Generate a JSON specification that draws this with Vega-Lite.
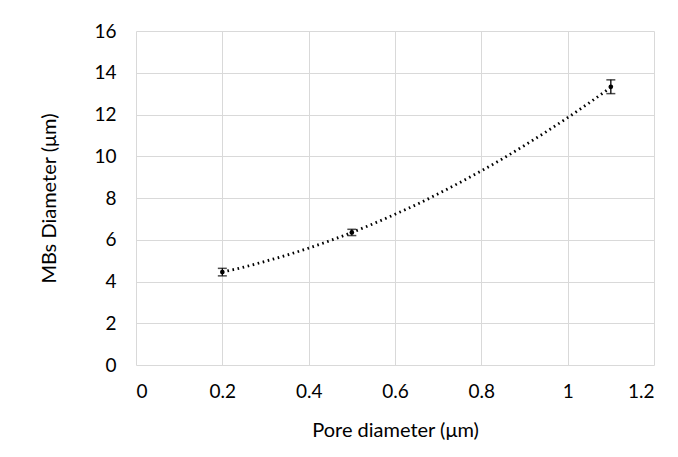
{
  "$schema": "https://vega.github.io/schema/vega-lite/v6.json",
  "width": 518,
  "height": 334,
  "autosize": {"type": "none"},
  "padding": {"left": 136, "top": 31, "right": 24, "bottom": 92},
  "background": "white",
  "config": {
    "view": {"stroke": null},
    "font": "Lato",
    "axis": {
      "grid": true,
      "gridColor": "#d9d9d9",
      "gridWidth": 1,
      "domain": false,
      "ticks": false,
      "labelFont": "Lato",
      "labelFontSize": 19,
      "labelColor": "#000000",
      "titleFont": "Lato",
      "titleFontSize": 20,
      "titleFontWeight": "normal",
      "titleColor": "#000000"
    }
  },
  "datasets": {
    "pts": [
      {"pore": 0.2, "mb": 4.45, "lo": 4.27, "hi": 4.63},
      {"pore": 0.5, "mb": 6.35, "lo": 6.2, "hi": 6.5},
      {"pore": 1.1, "mb": 13.33, "lo": 13.0, "hi": 13.66}
    ],
    "trend": [
      {"pore": 0.2, "mb": 4.45},
      {"pore": 0.25, "mb": 4.69},
      {"pore": 0.3, "mb": 4.97},
      {"pore": 0.35, "mb": 5.27},
      {"pore": 0.4, "mb": 5.6},
      {"pore": 0.45, "mb": 5.96},
      {"pore": 0.5, "mb": 6.35},
      {"pore": 0.55, "mb": 6.77},
      {"pore": 0.6, "mb": 7.22},
      {"pore": 0.65, "mb": 7.69},
      {"pore": 0.7, "mb": 8.2},
      {"pore": 0.75, "mb": 8.74},
      {"pore": 0.8, "mb": 9.3},
      {"pore": 0.85, "mb": 9.89},
      {"pore": 0.9, "mb": 10.52},
      {"pore": 0.95, "mb": 11.17},
      {"pore": 1.0, "mb": 11.85},
      {"pore": 1.05, "mb": 12.56},
      {"pore": 1.1, "mb": 13.3}
    ]
  },
  "encoding": {
    "x": {
      "field": "pore",
      "type": "quantitative",
      "scale": {"domain": [0, 1.2], "nice": false, "zero": true},
      "axis": {
        "values": [0, 0.2, 0.4, 0.6, 0.8, 1, 1.2],
        "title": "Pore diameter (μm)",
        "labelPadding": 17,
        "titlePadding": 19,
        "labelExpr": "datum.value"
      }
    },
    "y": {
      "field": "mb",
      "type": "quantitative",
      "scale": {"domain": [0, 16], "nice": false},
      "axis": {
        "values": [0, 2, 4, 6, 8, 10, 12, 14, 16],
        "title": "MBs Diameter (μm)",
        "labelPadding": 20,
        "titlePadding": 34
      }
    }
  },
  "layer": [
    {
      "data": {"name": "trend"},
      "mark": {"type": "line", "color": "#000000", "strokeWidth": 2.8, "strokeDash": [1.6, 3.6], "strokeCap": "butt", "interpolate": "monotone"}
    },
    {
      "data": {"name": "pts"},
      "mark": {"type": "rule", "color": "#000000", "strokeWidth": 1.3},
      "encoding": {"y": {"field": "lo", "type": "quantitative"}, "y2": {"field": "hi"}}
    },
    {
      "data": {"name": "pts"},
      "mark": {"type": "tick", "color": "#000000", "orient": "horizontal", "size": 9, "thickness": 1.5},
      "encoding": {"y": {"field": "lo", "type": "quantitative"}}
    },
    {
      "data": {"name": "pts"},
      "mark": {"type": "tick", "color": "#000000", "orient": "horizontal", "size": 9, "thickness": 1.5},
      "encoding": {"y": {"field": "hi", "type": "quantitative"}}
    },
    {
      "data": {"name": "pts"},
      "mark": {"type": "point", "filled": true, "color": "#000000", "size": 22, "opacity": 1}
    }
  ]
}
